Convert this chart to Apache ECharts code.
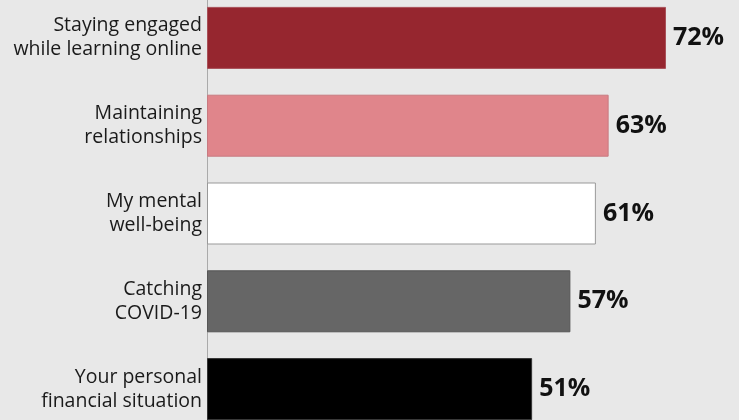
<!DOCTYPE html>
<html>
<head>
<meta charset="utf-8">
<script src="https://cdn.jsdelivr.net/npm/echarts@6/dist/echarts.min.js"></script>
<style>
html,body{margin:0;padding:0;background:#e8e8e8;overflow:hidden;width:739px;height:420px;}
#c{width:739px;height:460px;margin-top:-6px;}
</style>
</head>
<body>
<div id="c"></div>
<script>
const categories = ["Staying engaged\nwhile learning online", "Maintaining\nrelationships", "My mental\nwell-being", "Catching\nCOVID-19", "Your personal\nfinancial situation"];
const values = [72, 63, 61, 57, 51];
const barColors = ["#96262f", "#e0858b", "#ffffff", "#666666", "#000000"];
const borderColors = ["#a85058", "#c87a80", "#999999", "#555555", "#333333"];

const chart = echarts.init(document.getElementById('c'), null, {renderer: 'canvas'});
chart.setOption({
  backgroundColor: '#e8e8e8',
  animation: false,
  grid: {left: 207, top: 0, width: 510, height: 439, containLabel: false},
  xAxis: {type: 'value', min: 0, max: 80, show: false},
  yAxis: {
    type: 'category', inverse: true, data: categories,
    axisLine: {show: true, lineStyle: {color: '#aaaaaa', width: 1}},
    axisTick: {show: false},
    axisLabel: {fontFamily: 'Open Sans', fontSize: 19.5, color: '#1a1a1a', lineHeight: 24, margin: 5, align: 'right'}
  },
  series: [{
    type: 'bar',
    barWidth: 62,
    data: values.map((v, i) => ({
      value: v,
      itemStyle: {color: barColors[i], borderColor: borderColors[i], borderWidth: 1}
    })),
    label: {
      show: true, position: 'right', distance: 7,
      formatter: p => p.value + '%',
      fontFamily: 'Open Sans', fontWeight: 'bold', fontSize: 25, color: '#111'
    }
  }]
});
</script>
</body>
</html>
